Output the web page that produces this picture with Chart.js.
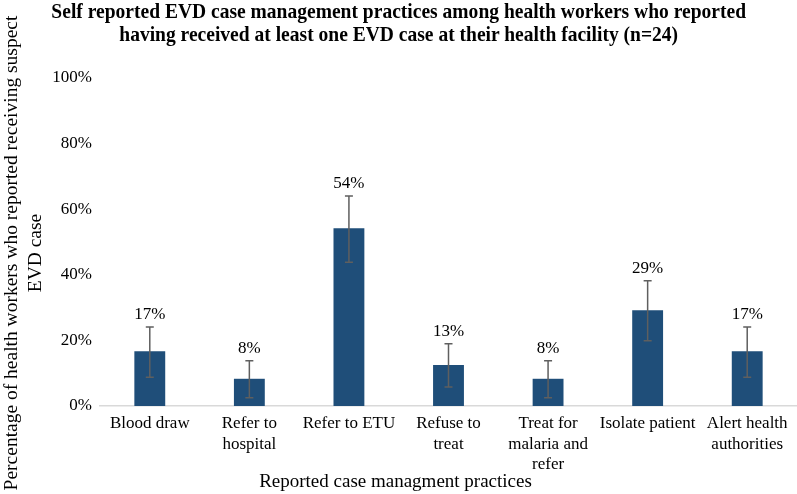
<!DOCTYPE html>
<html>
<head>
<meta charset="utf-8">
<script src="https://cdn.jsdelivr.net/npm/chart.js@4"></script>
<style>
  body { margin: 0; background: #fff; }
  #wrap { position: relative; width: 797px; height: 494px; }
  #title {
    position: absolute; left: 0; top: 0px; width: 797px;
    font-family: "Liberation Serif", serif; font-weight: bold; font-size: 21px;
    line-height: 23px; text-align: center; color: #000;
    transform: scaleX(0.93); transform-origin: 401px 0;
  }
  #xTitle {
    position: absolute; left: 0; top: 470px; width: 797px; text-align: center;
    font-family: "Liberation Serif", serif; font-size: 19px; color: #000;
    transform: translateX(-3px);
  }
</style>
</head>
<body>
<div id="wrap">
  <canvas id="myChart" width="797" height="494"></canvas>
  <div id="title">Self reported EVD case management practices among health workers who reported<br>having received at least one EVD case at their health facility (n=24)</div>
  <div id="xTitle">Reported case managment practices</div>
</div>
<script>
//DATA
var categories = [
  "Blood draw",
  ["Refer to", "hospital"],
  "Refer to ETU",
  ["Refuse to", "treat"],
  ["Treat for", "malaria and", "refer"],
  "Isolate patient",
  ["Alert health", "authorities"]
];
var values = [16.7, 8.3, 54.2, 12.5, 8.3, 29.2, 16.7];
var labels = ["17%", "8%", "54%", "13%", "8%", "29%", "17%"];
var errLow = [8.8, 2.5, 43.8, 5.8, 2.5, 19.9, 8.8];
var errHigh = [24.1, 13.8, 64.0, 19.0, 13.8, 38.2, 24.1];
var yTicks = [0, 20, 40, 60, 80, 100];
var yTitle = ["Percentage of health workers who reported receiving suspect", "EVD case"];

//COLORS
var barColor = "#1F4E79";
var errColor = "#5f5f5f";
var axisColor = "#d9d9d9";

var serif = "'Liberation Serif', 'Times New Roman', serif";

// error bars + value labels
var errorBars = {
  id: "errorBars",
  afterDatasetsDraw: function (chart) {
    var ctx = chart.ctx;
    var y = chart.scales.y;
    var meta = chart.getDatasetMeta(0);
    ctx.save();
    for (var i = 0; i < values.length; i++) {
      var x = meta.data[i].x;
      var yTop = y.getPixelForValue(errHigh[i]);
      var yBot = y.getPixelForValue(errLow[i]);
      ctx.strokeStyle = errColor;
      ctx.lineWidth = 1.5;
      ctx.beginPath();
      ctx.moveTo(x, yTop); ctx.lineTo(x, yBot);
      ctx.moveTo(x - 4, yTop); ctx.lineTo(x + 4, yTop);
      ctx.moveTo(x - 4, yBot); ctx.lineTo(x + 4, yBot);
      ctx.stroke();
      ctx.fillStyle = "#000";
      ctx.font = "17px " + serif;
      ctx.textAlign = "center";
      ctx.textBaseline = "bottom";
      ctx.fillText(labels[i], x, yTop - 4);
    }
    ctx.restore();
  }
};

// y axis title, drawn a bit below the plot centre like the original
var yTitlePlugin = {
  id: "yTitle",
  afterDraw: function (chart) {
    var ctx = chart.ctx;
    ctx.save();
    ctx.translate(0, 253);
    ctx.rotate(-Math.PI / 2);
    ctx.fillStyle = "#000";
    ctx.font = "19.5px " + serif;
    ctx.textAlign = "center";
    ctx.textBaseline = "middle";
    for (var i = 0; i < yTitle.length; i++) {
      ctx.fillText(yTitle[i], 0, 12 + i * 24);
    }
    ctx.restore();
  }
};

var config = {
  type: "bar",
  data: {
    labels: categories,
    datasets: [{
      data: values,
      backgroundColor: barColor,
      barPercentage: 0.31,
      categoryPercentage: 1.0
    }]
  },
  options: {
    responsive: false,
    animation: false,
    layout: { padding: { top: 78, right: 0, left: 0, bottom: 0 } },
    plugins: { legend: { display: false }, tooltip: { enabled: false } },
    scales: {
      x: {
        grid: { display: false },
        border: { color: axisColor, width: 1.5 },
        ticks: {
          color: "#000", font: { family: serif, size: 17, lineHeight: 1.18 }, padding: 0,
          maxRotation: 0, autoSkip: false
        },
        afterFit: function (scale) { scale.height = 88; }
      },
      y: {
        min: 0, max: 100,
        grid: { display: false },
        border: { display: false },
        afterBuildTicks: function (scale) {
          scale.ticks = yTicks.map(function (v) { return { value: v }; });
        },
        ticks: {
          color: "#000", font: { family: serif, size: 17 }, padding: 0,
          callback: function (v) { return v + "%"; }
        },
        afterFit: function (scale) { scale.width = 100; }
      }
    }
  },
  plugins: [errorBars, yTitlePlugin]
};

var myChart = new Chart(document.getElementById("myChart"), config);
</script>
</body>
</html>
